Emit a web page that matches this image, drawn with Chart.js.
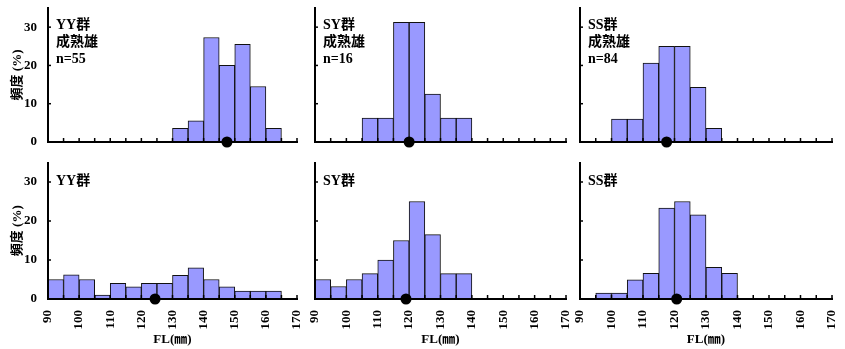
<!DOCTYPE html>
<html>
<head>
<meta charset="utf-8">
<script src="https://cdn.jsdelivr.net/npm/chart.js@4.4.0/dist/chart.umd.min.js"></script>
<style>
  html, body { margin: 0; padding: 0; background: #fff; }
  #wrap { position: relative; width: 845px; height: 349px; overflow: hidden; }
  #wrap canvas { position: absolute; }
</style>
</head>
<body>
<div id="wrap">
  <canvas id="c0"></canvas>
  <canvas id="c1"></canvas>
  <canvas id="c2"></canvas>
  <canvas id="c3"></canvas>
  <canvas id="c4"></canvas>
  <canvas id="c5"></canvas>
</div>
<script>
// bins of 5 mm, 90-165 (start of each bin)
const binStarts = [90, 95, 100, 105, 110, 115, 120, 125, 130, 135, 140, 145, 150, 155, 160, 165];
const xTicks = [90, 100, 110, 120, 130, 140, 150, 160, 170];
const yTicks = [0, 10, 20, 30];

// frequency (%) per bin
const yyMature = [0, 0, 0, 0, 0, 0, 0, 0, 3.6, 5.5, 27.3, 20.0, 25.5, 14.5, 3.6, 0];
const syMature = [0, 0, 0, 6.25, 6.25, 31.25, 31.25, 12.5, 6.25, 6.25, 0, 0, 0, 0, 0, 0];
const ssMature = [0, 0, 6.0, 6.0, 20.6, 25.0, 25.0, 14.3, 3.6, 0, 0, 0, 0, 0, 0, 0];
const yyAll = [5.0, 6.2, 5.0, 1.0, 4.0, 3.1, 4.0, 4.0, 6.1, 8.0, 5.0, 3.1, 2.0, 2.0, 2.0, 0];
const syAll = [5.0, 3.2, 5.0, 6.5, 10.0, 15.0, 25.0, 16.5, 6.5, 6.5, 0, 0, 0, 0, 0, 0];
const ssAll = [0, 1.5, 1.5, 4.9, 6.6, 23.3, 25.0, 21.6, 8.1, 6.6, 0, 0, 0, 0, 0, 0];

// mean FL shown as the black dot
const means = [147.5, 120, 117.5, 124.4, 119, 120.7];

const panelLabels = [
  ['YY群', '成熟雄', 'n=55'],
  ['SY群', '成熟雄', 'n=16'],
  ['SS群', '成熟雄', 'n=84'],
  ['YY群'],
  ['SY群'],
  ['SS群']
];
const series = [yyMature, syMature, ssMature, yyAll, syAll, ssAll];

const FONT = '"Liberation Serif", "Noto Sans CJK JP", serif';

// canvas placement for each column / row
const cols = [
  { left: 0, width: 310, axisW: 48, padR: 13 },
  { left: 300, width: 280, axisW: 15, padR: 14 },
  { left: 565, width: 280, axisW: 15, padR: 13 }
];
const rows = [
  { top: 0, height: 160, padT: 8, axisH: 18 },
  { top: 155, height: 194, padT: 7.5, axisH: 50 }
];

// inward tick marks + panel text
const panelDeco = {
  id: 'panelDeco',
  afterDraw(chart, args, opts) {
    const { ctx, chartArea, scales: { x, y } } = chart;
    ctx.save();
    ctx.strokeStyle = '#000';
    ctx.lineWidth = 1.5;
    x.ticks.forEach(t => {
      const px = x.getPixelForValue(t.value);
      ctx.beginPath();
      ctx.moveTo(px, chartArea.bottom);
      ctx.lineTo(px, chartArea.bottom - 4);
      ctx.stroke();
    });
    y.ticks.forEach(t => {
      if (t.value === 0) return;
      const py = y.getPixelForValue(t.value);
      ctx.beginPath();
      ctx.moveTo(chartArea.left, py);
      ctx.lineTo(chartArea.left + 3, py);
      ctx.stroke();
    });
    ctx.fillStyle = '#000';
    ctx.font = 'bold 14px ' + FONT;
    opts.lines.forEach((s, i) => {
      ctx.fillText(s, chartArea.left + 8, chartArea.top + opts.firstLine + i * 17);
    });
    ctx.restore();
  }
};

series.forEach((vals, i) => {
  const col = cols[i % 3];
  const row = rows[Math.floor(i / 3)];
  const isBottom = i >= 3;
  const isLeft = i % 3 === 0;

  const canvas = document.getElementById('c' + i);
  canvas.width = col.width;
  canvas.height = row.height;
  canvas.style.left = col.left + 'px';
  canvas.style.top = row.top + 'px';

  const bars = [];
  vals.forEach((v, k) => {
    if (v > 0) bars.push({ x: binStarts[k] + 2.5, y: v });
  });

  new Chart(canvas.getContext('2d'), {
    type: 'bar',
    data: {
      datasets: [
        {
          type: 'scatter',
          data: [{ x: means[i], y: 0 }],
          pointRadius: 5.5,
          pointBackgroundColor: '#000',
          pointBorderWidth: 0,
          clip: false,
          order: 0
        },
        {
          data: bars,
          backgroundColor: '#9999ff',
          borderColor: '#111',
          borderWidth: 1,
          barPercentage: 1,
          categoryPercentage: 1,
          order: 1
        }
      ]
    },
    options: {
      responsive: false,
      animation: false,
      events: [],
      layout: { padding: { top: row.padT, right: col.padR, left: 0, bottom: 0 } },
      plugins: {
        legend: { display: false },
        tooltip: { enabled: false },
        panelDeco: { lines: panelLabels[i], firstLine: isBottom ? 22 : 21 }
      },
      scales: {
        x: {
          type: 'linear',
          min: 90,
          max: 170,
          offset: false,
          afterBuildTicks: s => {
            s.ticks = binStarts.concat([170]).map(v => ({ value: v }));
          },
          ticks: {
            display: isBottom,
            autoSkip: false,
            minRotation: 90,
            maxRotation: 90,
            padding: 3,
            color: '#000',
            font: { family: FONT, size: 13, weight: 'bold' },
            callback: v => (xTicks.includes(v) ? String(v) : '')
          },
          grid: { display: false, offset: false },
          border: { display: true, color: '#000', width: 2, z: 1 },
          title: {
            display: isBottom,
            text: 'FL(㎜)',
            color: '#000',
            font: { family: FONT, size: 13, weight: 'bold' },
            padding: { top: 0, bottom: 2 }
          },
          afterFit: s => {
            s.height = row.axisH;
            s.paddingLeft = 0;
            s.paddingRight = 0;
          }
        },
        y: {
          min: 0,
          max: 35,
          afterBuildTicks: s => {
            s.ticks = yTicks.map(v => ({ value: v }));
          },
          ticks: {
            display: isLeft,
            padding: 3,
            color: '#000',
            font: { family: FONT, size: 13, weight: 'bold' }
          },
          grid: { display: false },
          border: { display: true, color: '#000', width: 2, z: 1 },
          title: {
            display: isLeft,
            text: '頻度 (%)',
            color: '#000',
            font: { family: FONT, size: 13, weight: 'bold' },
            padding: { top: 10, bottom: 0 }
          },
          afterFit: s => {
            s.width = col.axisW;
            s.paddingTop = 0;
            s.paddingBottom = 0;
          }
        }
      }
    },
    plugins: [panelDeco]
  });
});
</script>
</body>
</html>
